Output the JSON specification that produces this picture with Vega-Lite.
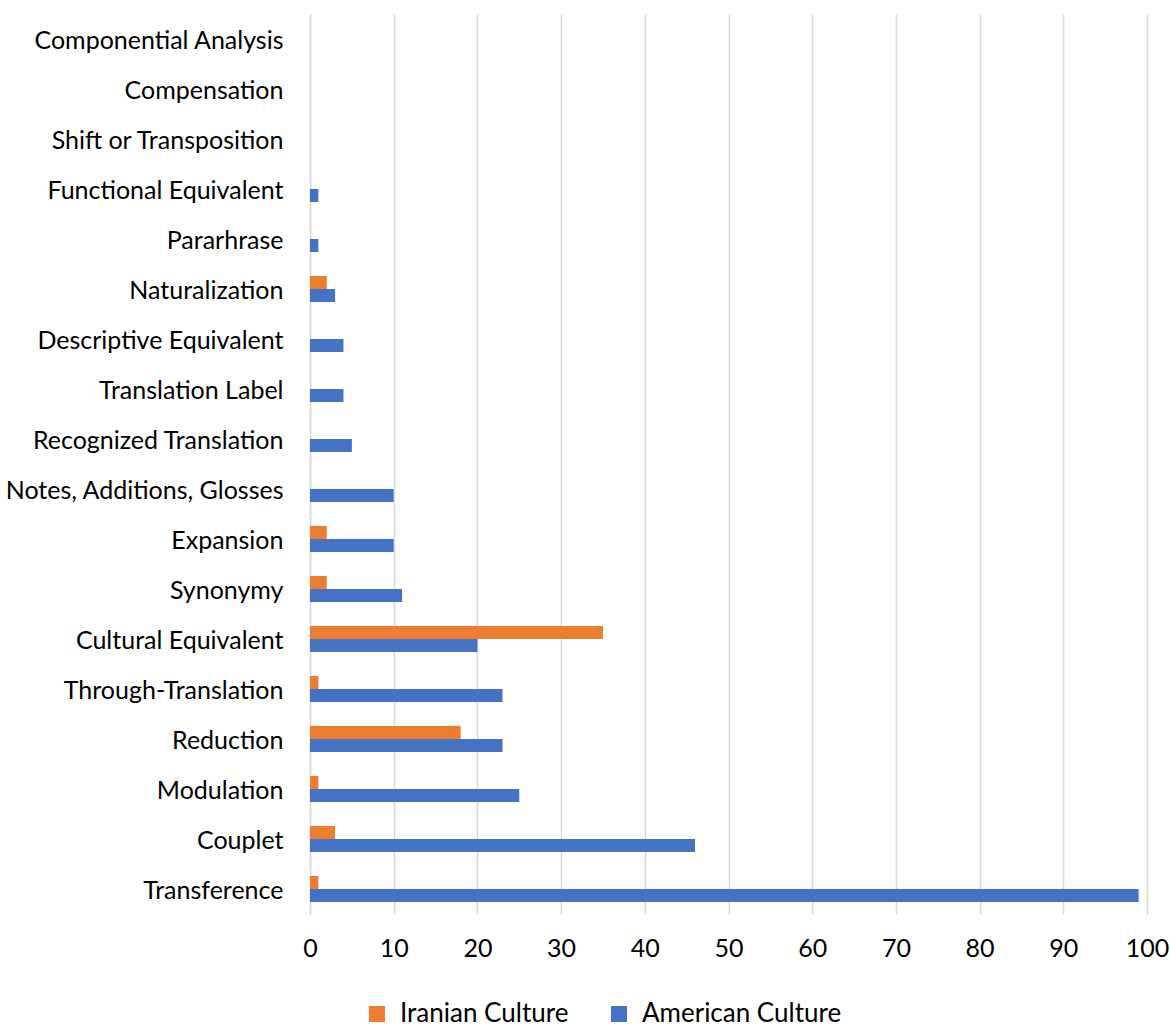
{
  "$schema": "https://vega.github.io/schema/vega-lite/v6.json",
  "autosize": "none",
  "width": 837,
  "height": 900,
  "padding": {"left": 310, "top": 14, "right": 23, "bottom": 118},
  "background": "#ffffff",
  "data": {
    "values": [
      {"technique": "Componential Analysis", "culture": "Iranian Culture", "value": 0},
      {"technique": "Componential Analysis", "culture": "American Culture", "value": 0},
      {"technique": "Compensation", "culture": "Iranian Culture", "value": 0},
      {"technique": "Compensation", "culture": "American Culture", "value": 0},
      {"technique": "Shift or Transposition", "culture": "Iranian Culture", "value": 0},
      {"technique": "Shift or Transposition", "culture": "American Culture", "value": 0},
      {"technique": "Functional Equivalent", "culture": "Iranian Culture", "value": 0},
      {"technique": "Functional Equivalent", "culture": "American Culture", "value": 1},
      {"technique": "Pararhrase", "culture": "Iranian Culture", "value": 0},
      {"technique": "Pararhrase", "culture": "American Culture", "value": 1},
      {"technique": "Naturalization", "culture": "Iranian Culture", "value": 2},
      {"technique": "Naturalization", "culture": "American Culture", "value": 3},
      {"technique": "Descriptive Equivalent", "culture": "Iranian Culture", "value": 0},
      {"technique": "Descriptive Equivalent", "culture": "American Culture", "value": 4},
      {"technique": "Translation Label", "culture": "Iranian Culture", "value": 0},
      {"technique": "Translation Label", "culture": "American Culture", "value": 4},
      {"technique": "Recognized Translation", "culture": "Iranian Culture", "value": 0},
      {"technique": "Recognized Translation", "culture": "American Culture", "value": 5},
      {"technique": "Notes, Additions, Glosses", "culture": "Iranian Culture", "value": 0},
      {"technique": "Notes, Additions, Glosses", "culture": "American Culture", "value": 10},
      {"technique": "Expansion", "culture": "Iranian Culture", "value": 2},
      {"technique": "Expansion", "culture": "American Culture", "value": 10},
      {"technique": "Synonymy", "culture": "Iranian Culture", "value": 2},
      {"technique": "Synonymy", "culture": "American Culture", "value": 11},
      {"technique": "Cultural Equivalent", "culture": "Iranian Culture", "value": 35},
      {"technique": "Cultural Equivalent", "culture": "American Culture", "value": 20},
      {"technique": "Through-Translation", "culture": "Iranian Culture", "value": 1},
      {"technique": "Through-Translation", "culture": "American Culture", "value": 23},
      {"technique": "Reduction", "culture": "Iranian Culture", "value": 18},
      {"technique": "Reduction", "culture": "American Culture", "value": 23},
      {"technique": "Modulation", "culture": "Iranian Culture", "value": 1},
      {"technique": "Modulation", "culture": "American Culture", "value": 25},
      {"technique": "Couplet", "culture": "Iranian Culture", "value": 3},
      {"technique": "Couplet", "culture": "American Culture", "value": 46},
      {"technique": "Transference", "culture": "Iranian Culture", "value": 1},
      {"technique": "Transference", "culture": "American Culture", "value": 99}
    ]
  },
  "mark": {"type": "bar"},
  "encoding": {
    "y": {
      "field": "technique",
      "type": "nominal",
      "sort": null,
      "scale": {"paddingInner": 0.48, "paddingOuter": 0.24},
      "axis": {
        "title": null,
        "domain": true,
        "domainColor": "#D9D9D9",
        "domainWidth": 1.5,
        "ticks": false,
        "grid": false,
        "labelPadding": 27,
        "labelFont": "Lato",
        "labelFontSize": 25,
        "labelColor": "#000000",
        "labelLimit": 400,
        "labelOffset": 2
      }
    },
    "yOffset": {
      "field": "culture",
      "type": "nominal",
      "sort": ["Iranian Culture", "American Culture"],
      "scale": {"paddingInner": 0, "paddingOuter": 0}
    },
    "x": {
      "field": "value",
      "type": "quantitative",
      "scale": {"domain": [0, 100], "nice": false},
      "axis": {
        "title": null,
        "values": [0, 10, 20, 30, 40, 50, 60, 70, 80, 90, 100],
        "domain": false,
        "ticks": false,
        "grid": true,
        "gridColor": "#D9D9D9",
        "gridWidth": 1.5,
        "labelPadding": 22,
        "labelFlush": false,
        "labelFont": "Lato",
        "labelFontSize": 25,
        "labelColor": "#000000"
      }
    },
    "color": {
      "field": "culture",
      "type": "nominal",
      "scale": {"domain": ["Iranian Culture", "American Culture"], "range": ["#ED7D31", "#4472C4"]},
      "legend": {
        "title": null,
        "orient": "none",
        "direction": "horizontal",
        "legendX": 54,
        "legendY": 987,
        "symbolType": "square",
        "symbolSize": 256,
        "symbolStrokeWidth": 0,
        "labelFont": "Lato",
        "labelFontSize": 26,
        "labelColor": "#000000",
        "labelOffset": 10,
        "columnPadding": 37,
        "labelLimit": 400
      }
    }
  },
  "config": {"view": {"stroke": null}}
}
